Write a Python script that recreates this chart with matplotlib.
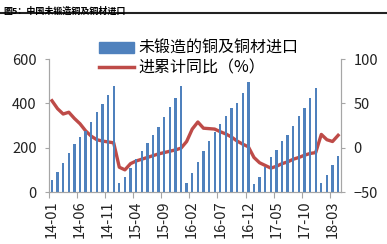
import numpy as np
import matplotlib.pyplot as plt
from matplotlib.lines import Line2D

plt.rcParams['font.family'] = ['Noto Sans CJK SC', 'DejaVu Sans']

# monthly cumulative imports (10k tonnes), 2014-01 .. 2018-04
imports_2014 = [54, 89, 131, 174, 215, 250, 275, 314, 359, 395, 438, 477]
imports_2015 = [40, 69, 108, 147, 185, 221, 257, 292, 338, 382, 425, 478]
imports_2016 = [42, 84, 137, 185, 230, 272, 305, 343, 377, 403, 445, 495]
imports_2017 = [35, 70, 115, 158, 191, 229, 259, 300, 342, 380, 426, 471]
imports_2018 = [42, 77, 123, 164]

# cumulative yoy (%)
yoy_2014 = [53, 44, 38, 40, 33, 27, 19, 13, 9, 7.5, 6.5, 5.5]
yoy_2015 = [-22, -25, -18, -15, -13, -11, -9, -7, -5.5, -4, -2.5, -0.5]
yoy_2016 = [7, 21, 29, 22, 21.5, 21, 18, 15.5, 12, 7.5, 4, 1]
yoy_2017 = [-11, -17, -20, -23, -21, -18, -16, -13, -11, -8.5, -6.5, -5.5]
yoy_2018 = [15, 9, 7, 14]

tick_labels = ['14-01', '14-06', '14-11', '15-04', '15-09', '16-02',
               '16-07', '16-12', '17-05', '17-10', '18-03']

imports = imports_2014 + imports_2015 + imports_2016 + imports_2017 + imports_2018
yoy = yoy_2014 + yoy_2015 + yoy_2016 + yoy_2017 + yoy_2018
x = np.arange(len(imports))

blue = '#4F81BD'
red = '#BE4B48'
grey = '#A6A6A6'

fig = plt.figure(figsize=(3.87, 2.44), dpi=100)
ax = fig.add_axes([0.127, 0.213, 0.754, 0.545])
ax2 = ax.twinx()

ax.bar(x, imports, width=0.42, color=blue, zorder=2)
ax2.plot(x, yoy, color=red, linewidth=2.4, zorder=3)

ax.set_xlim(-0.5, len(x) - 0.5)
ax.set_ylim(0, 600)
ax.set_yticks([0, 200, 400, 600])
ax2.set_ylim(-50, 100)
ax2.set_yticks([-50, 0, 50, 100])

# labels centred on categories, tick marks on category boundaries
ax.set_xticks(np.arange(0, len(x), 5))
ax.set_xticklabels(tick_labels, rotation=90)
ax.set_xticks(np.arange(-0.5, len(x), 5), minor=True)
ax.tick_params(axis='x', which='major', length=0, pad=6)
ax.tick_params(axis='x', which='minor', length=4, color=grey, width=0.8)

for a in (ax, ax2):
    a.spines['top'].set_visible(False)
    for s in ('left', 'right', 'bottom'):
        a.spines[s].set_color(grey)
        a.spines[s].set_linewidth(0.8)
    a.tick_params(axis='y', length=3, color=grey, width=0.8, labelsize=10.5,
                  labelcolor='#222222', pad=6)
ax.tick_params(axis='x', labelsize=10.5, labelcolor='#222222')
ax.patch.set_visible(False)
ax2.set_zorder(0)
ax.set_zorder(1)

handles = [plt.Rectangle((0, 0), 1, 1, color=blue),
           Line2D([], [], color=red, linewidth=2.5)]
fig.legend(handles, ['未锻造的铜及铜材进口', '进累计同比（%）'],
           loc='upper left', bbox_to_anchor=(0.235, 0.87), frameon=False,
           fontsize=11.5, handlelength=2.2, handletextpad=0.3,
           labelspacing=0.15, borderpad=0)

fig.text(0.008, 0.975, '图5：中国未锻造铜及铜材进口', fontsize=6.5, fontweight='bold',
         va='top', ha='left')
fig.add_artist(Line2D([0, 1], [0.945, 0.945], transform=fig.transFigure,
                      color='#222222', linewidth=1.5))

fig.savefig('out.png', dpi=100)
